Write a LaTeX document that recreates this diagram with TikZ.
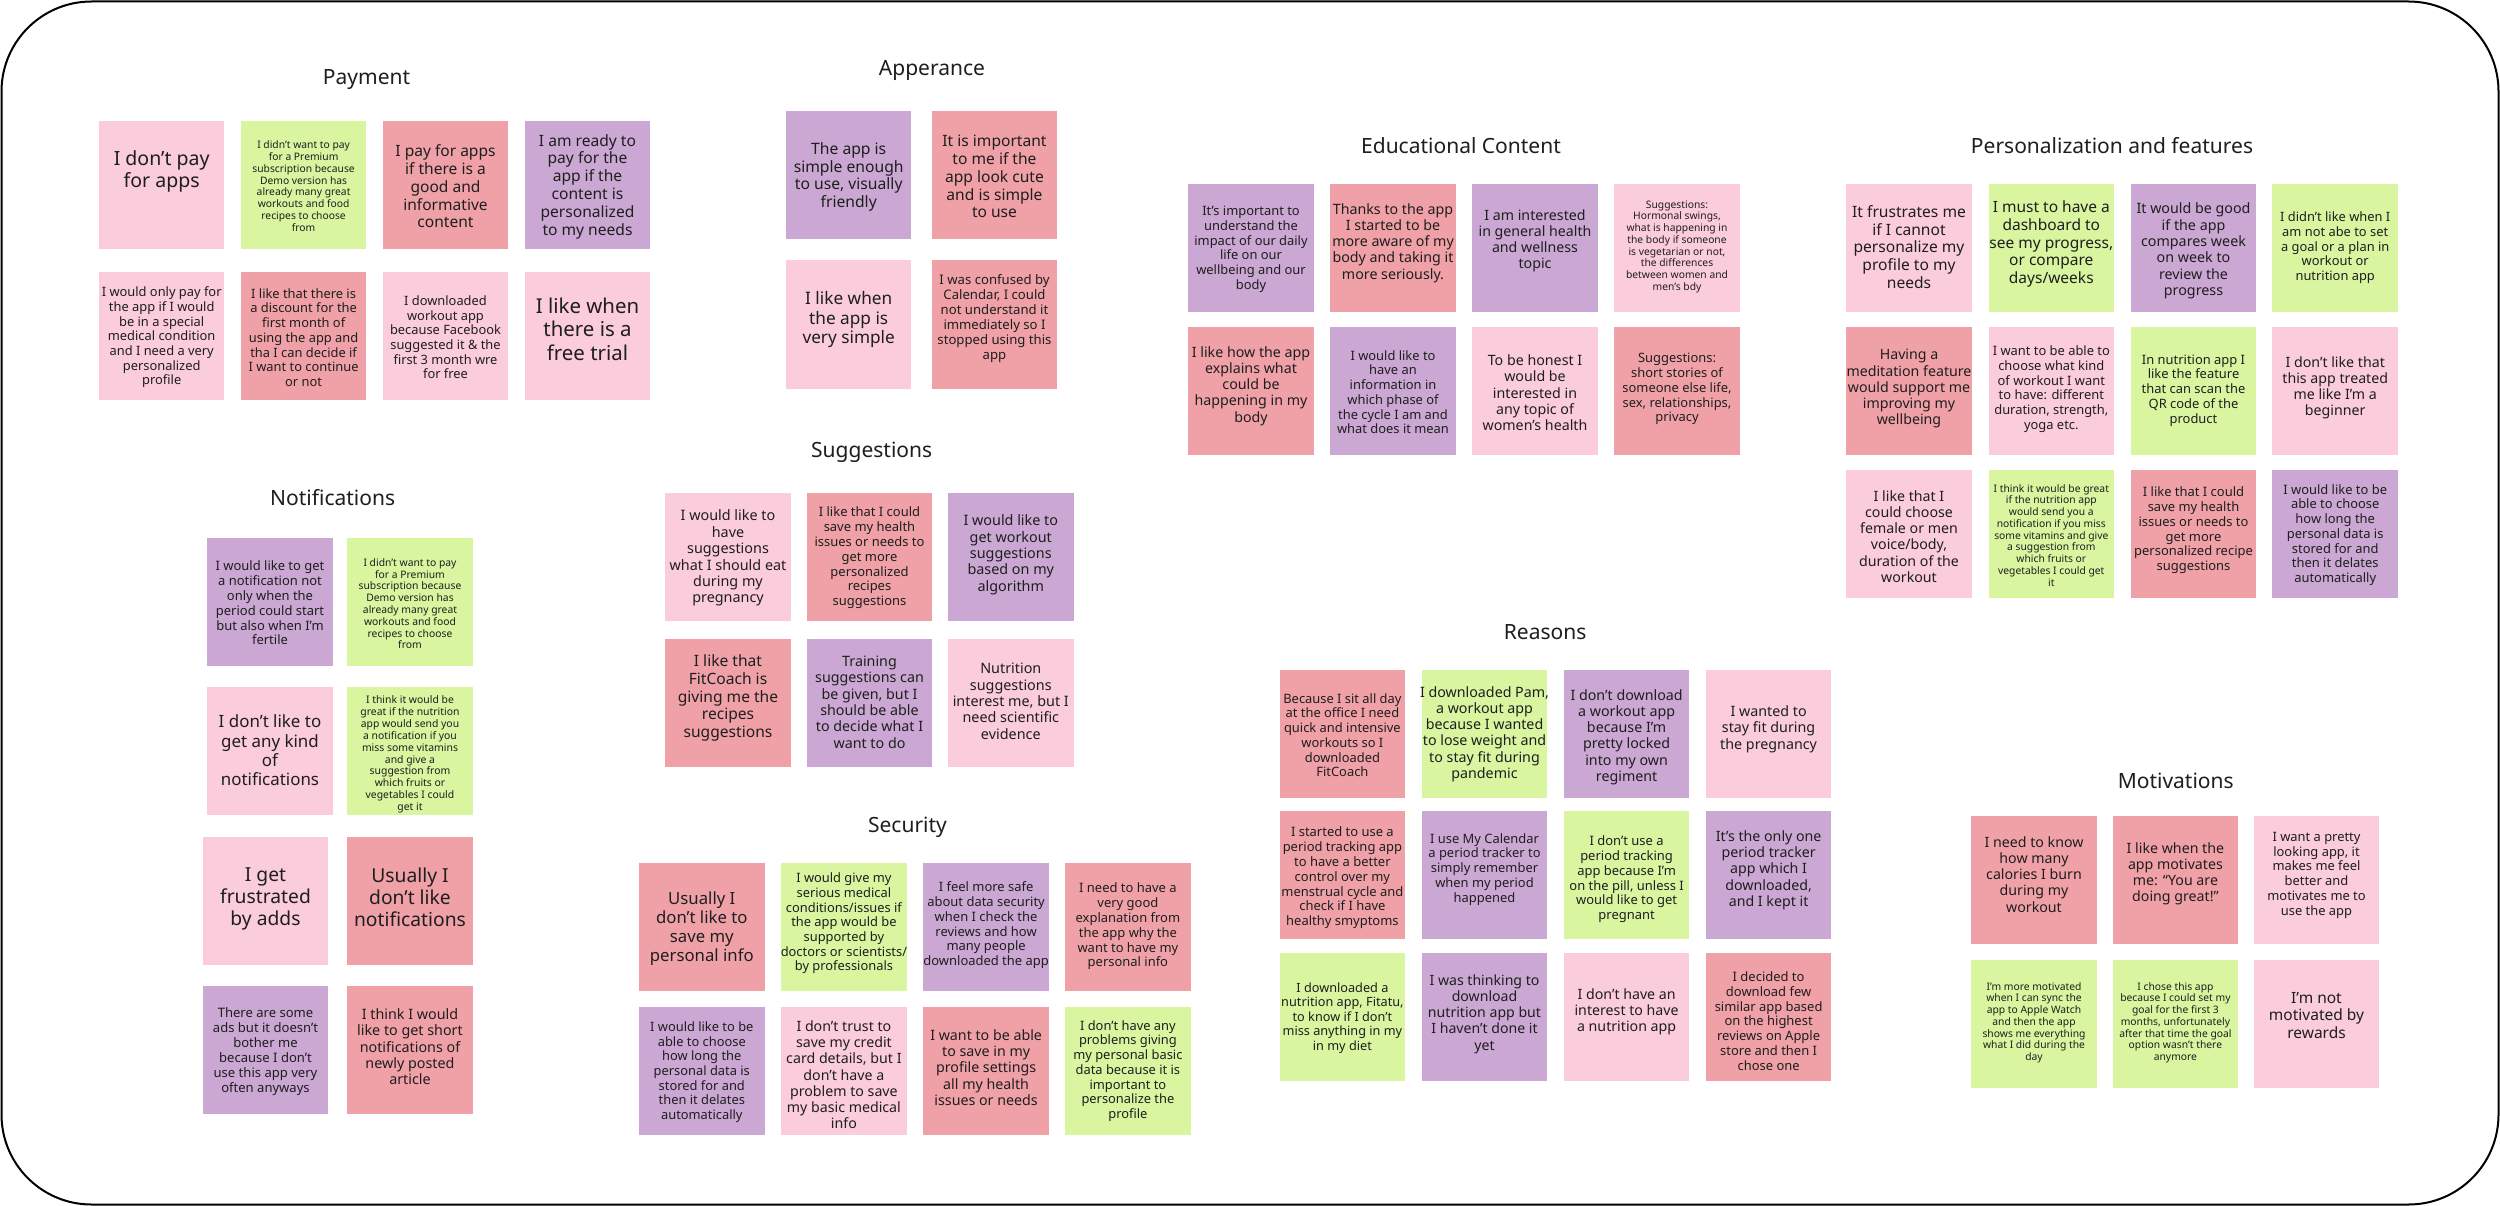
\documentclass[tikz,border=0pt]{standalone}
\usepackage{fontspec}
\setmainfont{Noto Sans}
\definecolor{cpk}{HTML}{FBCCDB}
\definecolor{cgr}{HTML}{D9F5A0}
\definecolor{csa}{HTML}{F0A1A8}
\definecolor{cpu}{HTML}{CBA8D3}
\definecolor{ink}{HTML}{1E1E1E}
\tikzset{
  stk/.style={rectangle, minimum width=125.5pt, minimum height=128pt, inner sep=0pt, draw=none},
  txt/.style={align=center, inner sep=0pt, text=ink},
  ttl/.style={anchor=base, inner sep=0pt, text=ink, font=\fontsize{21}{25}\selectfont},
  frame/.style={draw=black, line width=2pt, rounded corners=90pt}
}
% #1 name, #2 x, #3 y, #4 colour, #5 leading, #6 text centre y, #7 text
\newcommand\stick[7]{%
  \pgfmathsetmacro\stkfs{#5/1.1415}%
  \node[stk,fill=#4] (#1) at (#2,#3) {};
  \node[txt,font=\fontsize{\stkfs}{#5}\selectfont] (#1t) at (#2,#6) {#7};}
\begin{document}
\begin{tikzpicture}[x=1pt,y=-1pt]
\useasboundingbox (0,0) rectangle (2500,1206);
\fill[white] (0,0) rectangle (2500,1206);
\draw[frame] (1.5,1.5) rectangle (2498.5,1204.5);

% titles
\node[ttl] (tpay) at (366.6,84.3) {Payment};
\node[ttl] (tapp) at (932,75.7) {Apperance};
\node[ttl] (tnot) at (332.7,505.9) {Notifications};
\node[ttl] (tsug) at (871.7,457) {Suggestions};
\node[ttl] (tsec) at (907.5,832.6) {Security};
\node[ttl] (tedu) at (1461,153.6) {Educational Content};
\node[ttl] (trea) at (1545.1,639.9) {Reasons};
\node[ttl] (tper) at (2112,153.6) {Personalization and features};
\node[ttl] (tmot) at (2175.7,788.3) {Motivations};

% Payment
\stick{pay1}{161.7}{184.8}{cpk}{22.3}{171.2}{I don’t pay\\for apps}
\stick{pay2}{303.6}{184.8}{cgr}{11.76}{186.2}{I didn’t want to pay\\for a Premium\\subscription because\\Demo version has\\already many great\\workouts and food\\recipes to choose\\from}
\stick{pay3}{445.5}{184.8}{csa}{17.75}{186.5}{I pay for apps\\if there is a\\good and\\informative\\content}
\stick{pay4}{587.5}{184.8}{cpu}{17.8}{186.5}{I am ready to\\pay for the\\app if the\\content is\\personalized\\to my needs}
\stick{pay5}{161.7}{336.2}{cpk}{14.7}{337.5}{I would only pay for\\the app if I would\\be in a special\\medical condition\\and I need a very\\personalized\\profile}
\stick{pay6}{303.6}{336.2}{csa}{14.7}{337.5}{I like that there is\\a discount for the\\first month of\\using the app and\\tha I can decide if\\I want to continue\\or not}
\stick{pay7}{445.5}{336.2}{cpk}{14.67}{337.3}{I downloaded\\workout app\\because Facebook\\suggested it \& the\\first 3 month wre\\for free}
\stick{pay8}{587.5}{336.2}{cpk}{23.3}{329.3}{I like when\\there is a\\free trial}

% Notifications
\stick{not1}{270}{601.9}{cpu}{14.8}{603}{I would like to get\\a notification not\\only when the\\period could start\\but also when I’m\\fertile}
\stick{not2}{410}{601.9}{cgr}{11.8}{603.8}{I didn’t want to pay\\for a Premium\\subscription because\\Demo version has\\already many great\\workouts and food\\recipes to choose\\from}
\stick{not3}{270}{751.4}{cpk}{19.3}{750.5}{I don’t like to\\get any kind\\of\\notifications}
\stick{not4}{410}{751.4}{cgr}{11.87}{754.4}{I think it would be\\great if the nutrition\\app would send you\\a notification if you\\miss some vitamins\\and give a\\suggestion from\\which fruits or\\vegetables I could\\get it}
\stick{not5}{265.5}{901.3}{cpk}{22}{898.5}{I get\\frustrated\\by adds}
\stick{not6}{410}{901.3}{csa}{22}{897.2}{Usually I\\don’t like\\notifications}
\stick{not7}{265.5}{1050.2}{cpu}{14.9}{1051.7}{There are some\\ads but it doesn’t\\bother me\\because I don’t\\use this app very\\often anyways}
\stick{not8}{410}{1050.2}{csa}{16.35}{1046.7}{I think I would\\like to get short\\notifications of\\newly posted\\article}

% Apperance
\stick{app1}{848.7}{175}{cpu}{17.9}{176.9}{The app is\\simple enough\\to use, visually\\friendly}
\stick{app2}{994.5}{175}{csa}{17.8}{176.6}{It is important\\to me if the\\app look cute\\and is simple\\to use}
\stick{app3}{848.7}{324.5}{cpk}{19.65}{319.8}{I like when\\the app is\\very simple}
\stick{app4}{994.5}{324.5}{csa}{15}{318.4}{I was confused by\\Calendar, I could\\not understand it\\immediately so I\\stopped using this\\app}

% Suggestions
\stick{sug1}{728}{557.1}{cpk}{16.4}{558.2}{I would like to\\have\\suggestions\\what I should eat\\during my\\pregnancy}
\stick{sug2}{869.5}{557.1}{csa}{14.8}{558}{I like that I could\\save my health\\issues or needs to\\get more\\personalized\\recipes\\suggestions}
\stick{sug3}{1010.8}{557.1}{cpu}{16.4}{554.7}{I would like to\\get workout\\suggestions\\based on my\\algorithm}
\stick{sug4}{728}{703.4}{csa}{17.8}{698}{I like that\\FitCoach is\\giving me the\\recipes\\suggestions}
\stick{sug5}{869.5}{703.4}{cpu}{16.3}{702.1}{Training\\suggestions can\\be given, but I\\should be able\\to decide what I\\want to do}
\stick{sug6}{1010.8}{703.4}{cpk}{16.4}{701.2}{Nutrition\\suggestions\\interest me, but I\\need scientific\\evidence}

% Security
\stick{sec1}{701.8}{926.8}{csa}{19.1}{928.7}{Usually I\\don’t like to\\save my\\personal info}
\stick{sec2}{843.9}{926.8}{cgr}{14.7}{923.5}{I would give my\\serious medical\\conditions/issues if\\the app would be\\supported by\\doctors or scientists/\\by professionals}
\stick{sec3}{986.1}{926.8}{cpu}{14.8}{925.3}{I feel more safe\\about data security\\when I check the\\reviews and how\\many people\\downloaded the app}
\stick{sec4}{1127.9}{926.8}{csa}{14.8}{926.5}{I need to have a\\very good\\explanation from\\the app why the\\want to have my\\personal info}
\stick{sec5}{701.8}{1071}{cpu}{14.7}{1072.2}{I would like to be\\able to choose\\how long the\\personal data is\\stored for and\\then it delates\\automatically}
\stick{sec6}{843.9}{1071}{cpk}{16.2}{1074.8}{I don’t trust to\\save my credit\\card details, but I\\don’t have a\\problem to save\\my basic medical\\info}
\stick{sec7}{986.1}{1071}{csa}{16.25}{1067.5}{I want to be able\\to save in my\\profile settings\\all my health\\issues or needs}
\stick{sec8}{1127.9}{1071}{cgr}{14.7}{1071}{I don’t have any\\problems giving\\my personal basic\\data because it is\\important to\\personalize the\\profile}

% Educational Content
\stick{edu1}{1251}{248}{cpu}{14.73}{249.2}{It’s important to\\understand the\\impact of our daily\\life on our\\wellbeing and our\\body}
\stick{edu2}{1393}{248}{csa}{16.25}{242.8}{Thanks to the app\\I started to be\\more aware of my\\body and taking it\\more seriously.}
\stick{edu3}{1535}{248}{cpu}{16.2}{240.7}{I am interested\\in general health\\and wellness\\topic}
\stick{edu4}{1677}{248}{cpk}{11.76}{246.8}{Suggestions:\\Hormonal swings,\\what is happening in\\the body if someone\\is vegetarian or not,\\the differences\\between women and\\men’s bdy}
\stick{edu5}{1251}{390.8}{csa}{16.25}{385.8}{I like how the app\\explains what\\could be\\happening in my\\body}
\stick{edu6}{1393}{390.8}{cpu}{14.73}{392.2}{I would like to\\have an\\information in\\which phase of\\the cycle I am and\\what does it mean}
\stick{edu7}{1535}{390.8}{cpk}{16.25}{392.8}{To be honest I\\would be\\interested in\\any topic of\\women’s health}
\stick{edu8}{1677}{390.8}{csa}{14.75}{389.2}{Suggestions:\\short stories of\\someone else life,\\sex, relationships,\\privacy}

% Reasons
\stick{rea1}{1342.4}{733.8}{csa}{14.73}{735.2}{Because I sit all day\\at the office I need\\quick and intensive\\workouts so I\\downloaded\\FitCoach}
\stick{rea2}{1484.5}{733.8}{cgr}{16.27}{734}{I downloaded Pam,\\a workout app\\because I wanted\\to lose weight and\\to stay fit during\\pandemic}
\stick{rea3}{1626.6}{733.8}{cpu}{16.27}{737}{I don’t download\\a workout app\\because I’m\\pretty locked\\into my own\\regiment}
\stick{rea4}{1768.6}{733.8}{cpk}{16.3}{729}{I wanted to\\stay fit during\\the pregnancy}
\stick{rea5}{1342.4}{875.3}{csa}{14.8}{878}{I started to use a\\period tracking app\\to have a better\\control over my\\menstrual cycle and\\check if I have\\healthy smyptoms}
\stick{rea6}{1484.5}{875.3}{cpu}{14.75}{869.2}{I use My Calendar\\a period tracker to\\simply remember\\when my period\\happened}
\stick{rea7}{1626.6}{875.3}{cgr}{14.8}{879.3}{I don’t use a\\period tracking\\app because I’m\\on the pill, unless I\\would like to get\\pregnant}
\stick{rea8}{1768.6}{875.3}{cpu}{16.2}{870.3}{It’s the only one\\period tracker\\app which I\\downloaded,\\and I kept it}
\stick{rea9}{1342.4}{1016.7}{cgr}{14.5}{1017.7}{I downloaded a\\nutrition app, Fitatu,\\to know if I don’t\\miss anything in my\\in my diet}
\stick{rea10}{1484.5}{1016.7}{cpu}{16.1}{1014.2}{I was thinking to\\download\\nutrition app but\\I haven’t done it\\yet}
\stick{rea11}{1626.6}{1016.7}{cpk}{16.2}{1011.7}{I don’t have an\\interest to have\\a nutrition app}
\stick{rea12}{1768.6}{1016.7}{csa}{14.8}{1021}{I decided to\\download few\\similar app based\\on the highest\\reviews on Apple\\store and then I\\chose one}

% Personalization and features
\stick{per1}{1909}{248}{cpk}{17.8}{247}{It frustrates me\\if I cannot\\personalize my\\profile to my\\needs}
\stick{per2}{2051.3}{248}{cgr}{17.7}{244}{I must to have a\\dashboard to\\see my progress,\\or compare\\days/weeks}
\stick{per3}{2193.5}{248}{cpu}{16.3}{251}{It would be good\\if the app\\compares week\\on week to\\review the\\progress}
\stick{per4}{2335.2}{248}{cgr}{14.7}{247.7}{I didn’t like when I\\am not abe to set\\a goal or a plan in\\workout or\\nutrition app}
\stick{per5}{1909}{390.8}{csa}{16.2}{388.7}{Having a\\meditation feature\\would support me\\improving my\\wellbeing}
\stick{per6}{2051.3}{390.8}{cpk}{14.73}{389.2}{I want to be able to\\choose what kind\\of workout I want\\to have: different\\duration, strength,\\yoga etc.}
\stick{per7}{2193.5}{390.8}{cgr}{14.75}{390.5}{In nutrition app I\\like the feature\\that can scan the\\QR code of the\\product}
\stick{per8}{2335.2}{390.8}{cpk}{16.2}{388}{I don’t like that\\this app treated\\me like I’m a\\beginner}
\stick{per9}{1909}{533.7}{cpk}{16.2}{536.5}{I like that I\\could choose\\female or men\\voice/body,\\duration of the\\workout}
\stick{per10}{2051.3}{533.7}{cgr}{11.75}{535.3}{I think it would be great\\if the nutrition app\\would send you a\\notification if you miss\\some vitamins and give\\a suggestion from\\which fruits or\\vegetables I could get\\it}
\stick{per11}{2193.5}{533.7}{csa}{14.8}{530.3}{I like that I could\\save my health\\issues or needs to\\get more\\personalized recipe\\suggestions}
\stick{per12}{2335.2}{533.7}{cpu}{14.77}{535}{I would like to be\\able to choose\\how long the\\personal data is\\stored for and\\then it delates\\automatically}

% Motivations
\stick{mot1}{2034}{879.7}{csa}{16.2}{874.3}{I need to know\\how many\\calories I burn\\during my\\workout}
\stick{mot2}{2175.4}{879.7}{csa}{16.2}{873.7}{I like when the\\app motivates\\me: “You are\\doing great!”}
\stick{mot3}{2316.5}{879.7}{cpk}{14.73}{875.2}{I want a pretty\\looking app, it\\makes me feel\\better and\\motivates me to\\use the app}
\stick{mot4}{2034}{1024}{cgr}{11.78}{1022.7}{I’m more motivated\\when I can sync the\\app to Apple Watch\\and then the app\\shows me everything\\what I did during the\\day}
\stick{mot5}{2175.4}{1024}{cgr}{11.78}{1022.7}{I chose this app\\because I could set my\\goal for the first 3\\months, unfortunately\\after that time the goal\\option wasn’t there\\anymore}
\stick{mot6}{2316.5}{1024}{cpk}{17.7}{1015.3}{I’m not\\motivated by\\rewards}
\end{tikzpicture}
\end{document}
